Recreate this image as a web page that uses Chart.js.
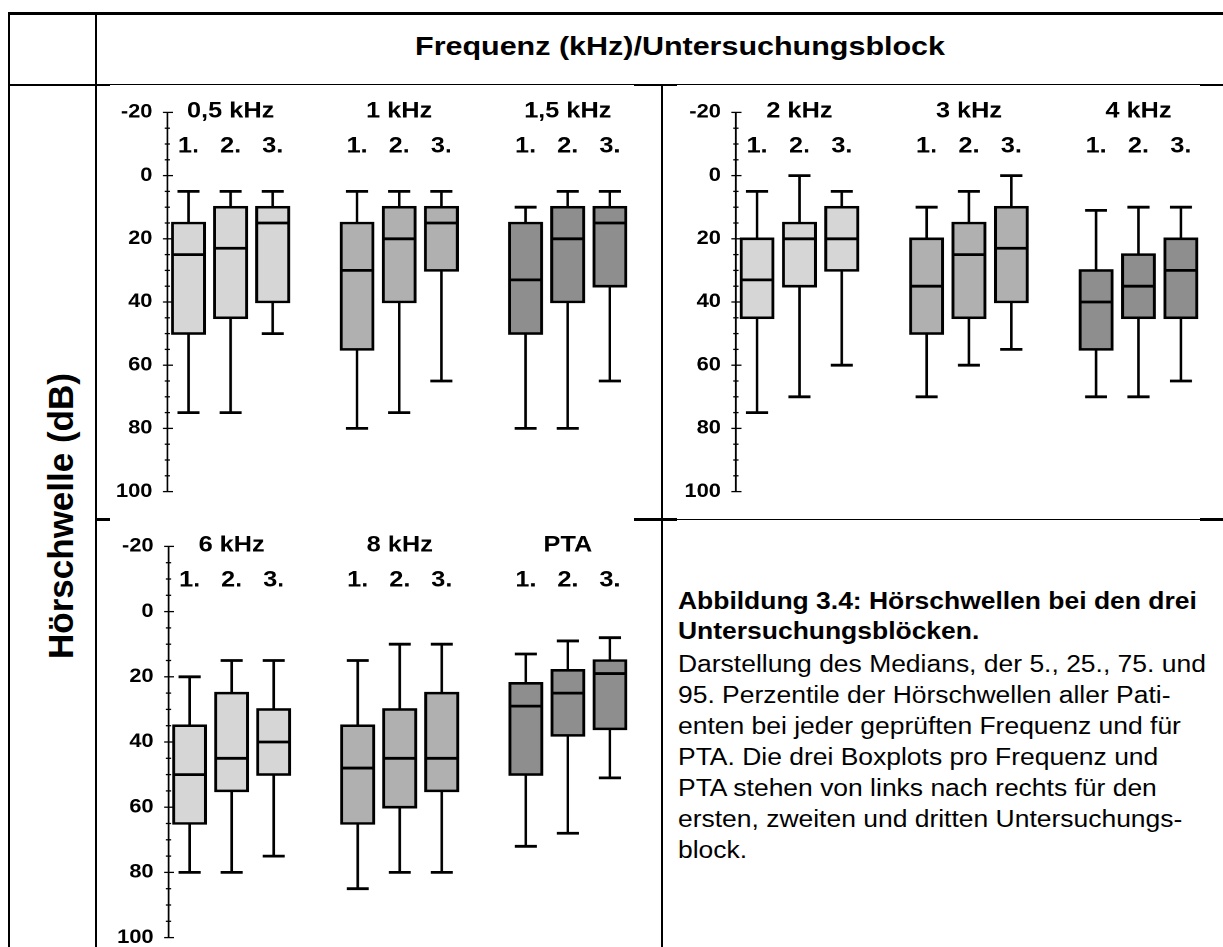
<!DOCTYPE html>
<html lang="de">
<head>
<meta charset="UTF-8">
<title>Hörschwellen bei den drei Untersuchungsblöcken</title>
<script src="https://cdn.jsdelivr.net/npm/chart.js@4.4.1/dist/chart.umd.min.js"></script>
<style>
  html, body { margin: 0; padding: 0; background: #fff; overflow: hidden; }
  body {
    position: relative; width: 1223px; height: 947px;
    font-family: "Liberation Sans", Arial, Helvetica, sans-serif; color: #000;
  }
  .line { position: absolute; background: #000; }
  /* the whole figure is set slightly wide */
  .wide { position: absolute; transform-origin: 0 0; transform: scaleX(1.15); }
  #title {
    font-weight: bold; font-size: 26.5px; line-height: 30px;
    text-align: center; white-space: nowrap;
  }
  #ylabel {
    position: absolute; left: 59.5px; top: 516px;
    transform: translate(-50%, -50%) rotate(-90deg);
    font-weight: bold; font-size: 35px; line-height: 35px; white-space: nowrap;
  }
  #caption { font-size: 23px; white-space: nowrap; }
  #caption .head { font-weight: bold; line-height: 30px; }
  #caption .body { line-height: 31px; margin-top: 3px; }
</style>
</head>
<body>
  <!-- table frame -->
  <div class="line" style="left:8px;top:12px;width:1215px;height:2.5px"></div>
  <div class="line" style="left:8px;top:12px;width:2.3px;height:935px"></div>
  <div class="line" style="left:94.7px;top:12px;width:2.7px;height:935px"></div>
  <div class="line" style="left:8px;top:84.3px;width:1215px;height:1.2px"></div>
  <div class="line" style="left:8px;top:83.6px;width:102px;height:2.6px"></div>
  <div class="line" style="left:634px;top:83.6px;width:43px;height:2.6px"></div>
  <div class="line" style="left:1200px;top:83.6px;width:23px;height:2.6px"></div>
  <div class="line" style="left:660.7px;top:84px;width:2.6px;height:863px"></div>
  <div class="line" style="left:94.7px;top:518px;width:15.3px;height:2.6px"></div>
  <div class="line" style="left:634px;top:518px;width:43px;height:2.6px"></div>
  <div class="line" style="left:1200px;top:518px;width:23px;height:2.6px"></div>
  <div class="line" style="left:662px;top:518.7px;width:561px;height:1.2px"></div>

  <div id="title" class="wide" style="left:96px;top:31px;width:1015.7px">Frequenz (kHz)/Untersuchungsblock</div>
  <div id="ylabel">Hörschwelle (dB)</div>

  <div class="wide" style="left:100px;top:88px;width:487px;height:428px"><canvas id="chartA"></canvas></div>
  <div class="wide" style="left:665px;top:88px;width:485px;height:428px"><canvas id="chartB"></canvas></div>
  <div class="wide" style="left:100px;top:522px;width:487px;height:440px"><canvas id="chartC"></canvas></div>

  <div id="caption" class="wide" style="left:678px;top:586px">
    <div class="head">Abbildung 3.4: Hörschwellen bei den drei<br>Untersuchungsblöcken.</div>
    <div class="body">Darstellung des Medians, der 5., 25., 75. und<br>95. Perzentile der Hörschwellen aller Pati-<br>enten bei jeder geprüften Frequenz und für<br>PTA. Die drei Boxplots pro Frequenz und<br>PTA stehen von links nach rechts für den<br>ersten, zweiten und dritten Untersuchungs-<br>block.</div>
  </div>

<script>
// hearing thresholds in dB, one row per frequency, one value per examination block
const frequencies = ['0,5 kHz', '1 kHz', '1,5 kHz', '2 kHz', '3 kHz', '4 kHz', '6 kHz', '8 kHz', 'PTA'];
const blocks = ['1.', '2.', '3.'];
const p5 = [[5, 5, 5], [5, 5, 5], [10, 5, 5], [5, 0, 5], [10, 5, 0], [11, 10, 10], [20, 15, 15], [15, 10, 10], [13, 9, 8]];
const p25 = [[15, 10, 10], [15, 10, 10], [15, 10, 10], [20, 15, 10], [20, 15, 10], [30, 25, 20], [35, 25, 30], [35, 30, 25], [22, 18, 15]];
const medians = [[25, 23, 15], [30, 20, 15], [33, 20, 15], [33, 20, 20], [35, 25, 23], [40, 35, 30], [50, 45, 40], [48, 45, 45], [29, 25, 19]];
const p75 = [[50, 45, 40], [55, 40, 30], [50, 40, 35], [45, 35, 30], [50, 45, 40], [55, 45, 45], [65, 55, 50], [65, 60, 55], [50, 38, 36]];
const p95 = [[75, 75, 50], [80, 75, 65], [80, 80, 65], [75, 70, 60], [70, 60, 55], [70, 70, 65], [80, 80, 75], [85, 80, 80], [72, 68, 51]];

const yMin = -20, yMax = 100, yStep = 5, yLabelStep = 20;
const fills = ['#d6d6d6', '#b0b0b0', '#8e8e8e'];

const FONT = '"Liberation Sans", Arial, Helvetica, sans-serif';
Chart.defaults.font.family = FONT;
Chart.defaults.color = '#000';

// slots per panel: three boxes, a gap, three boxes, a gap, three boxes
const slotOf = (g, b) => g * 4 + b;

// whiskers, medians, the value axis and the group captions
const boxplotExtras = {
  id: 'boxplotExtras',
  afterDatasetsDraw(chart, args, opts) {
    const { ctx, chartArea: area, scales: { y } } = chart;
    const bars = chart.getDatasetMeta(0).data;
    const seg = (x1, y1, x2, y2) => { ctx.beginPath(); ctx.moveTo(x1, y1); ctx.lineTo(x2, y2); ctx.stroke(); };
    ctx.save();
    ctx.strokeStyle = '#000';
    ctx.fillStyle = '#000';
    ctx.lineCap = 'butt';

    // axis line with long and short tick marks crossing it
    ctx.lineWidth = 1.5;
    seg(area.left, area.top, area.left, area.bottom);
    ctx.lineWidth = 1.3;
    y.ticks.forEach(t => {
      const py = y.getPixelForValue(t.value);
      const major = t.value % yLabelStep === 0;
      seg(area.left - (major ? 3.9 : 2.3), py, area.left + (major ? 4.9 : 2.3), py);
    });

    opts.freqIdx.forEach((f, g) => {
      blocks.forEach((label, b) => {
        const bar = bars[slotOf(g, b)];
        const cx = bar.x, half = bar.width / 2;
        const yLo = y.getPixelForValue(p5[f][b]);
        const yQ1 = y.getPixelForValue(p25[f][b]);
        const yQ3 = y.getPixelForValue(p75[f][b]);
        const yHi = y.getPixelForValue(p95[f][b]);
        const yMed = y.getPixelForValue(medians[f][b]);
        ctx.lineWidth = 2.25;
        seg(cx, yLo, cx, yQ1);
        seg(cx, yQ3, cx, yHi);
        ctx.lineWidth = 2.8;
        seg(cx - 9.6, yLo, cx + 9.6, yLo);
        seg(cx - 9.6, yHi, cx + 9.6, yHi);
        seg(cx - half, yMed, cx + half, yMed);
      });
    });

    ctx.font = 'bold 22px ' + FONT;
    ctx.textAlign = 'center';
    ctx.textBaseline = 'middle';
    opts.freqIdx.forEach((f, g) => {
      ctx.fillText(frequencies[f], bars[slotOf(g, 1)].x, area.top - 1);
      blocks.forEach((label, b) => ctx.fillText(label, bars[slotOf(g, b)].x, area.top + 34));
    });
    ctx.restore();
  }
};

function makePanel(id, freqIdx, geom) {
  const labels = [], boxes = [], colors = [];
  for (let s = 0; s < 11; s++) {
    const g = Math.floor(s / 4), b = s % 4;
    if (b === 3) { labels.push(''); boxes.push(null); colors.push('transparent'); continue; }
    const f = freqIdx[g];
    labels.push(frequencies[f] + ' ' + blocks[b]);
    boxes.push([p25[f][b], p75[f][b]]);
    colors.push(fills[g]);
  }

  return new Chart(document.getElementById(id), {
    type: 'bar',
    data: {
      labels,
      datasets: [{
        data: boxes,
        backgroundColor: colors,
        borderColor: '#000',
        borderWidth: 2.6,
        borderSkipped: false,
        inflateAmount: 1.3,
        barThickness: 27.8
      }]
    },
    options: {
      responsive: true,
      maintainAspectRatio: false,
      animation: false,
      devicePixelRatio: 2,
      events: [],
      layout: { padding: { left: 0, right: geom.right, top: geom.top, bottom: geom.bottom } },
      plugins: {
        legend: { display: false },
        tooltip: { enabled: false },
        boxplotExtras: { freqIdx }
      },
      scales: {
        x: { type: 'category', display: false, offset: true },
        y: {
          reverse: true,
          min: yMin,
          max: yMax,
          afterFit: scale => { scale.width = geom.axisWidth; },
          grid: { display: false, drawTicks: false },
          border: { display: false },
          ticks: {
            stepSize: yStep,
            autoSkip: false,
            padding: 13,
            color: '#000',
            font: { size: 19, weight: 'bold' },
            callback: v => (v % yLabelStep === 0 ? String(v) : '')
          }
        }
      }
    },
    plugins: [boxplotExtras]
  });
}

makePanel('chartA', [0, 1, 2], { axisWidth: 58.6, right: 25.3, top: 19, bottom: 13 });
makePanel('chartB', [3, 4, 5], { axisWidth: 61.6, right: 18.0, top: 20, bottom: 12 });
makePanel('chartC', [6, 7, 8], { axisWidth: 59.6, right: 25.3, top: 22, bottom: 22 });
</script>
</body>
</html>
